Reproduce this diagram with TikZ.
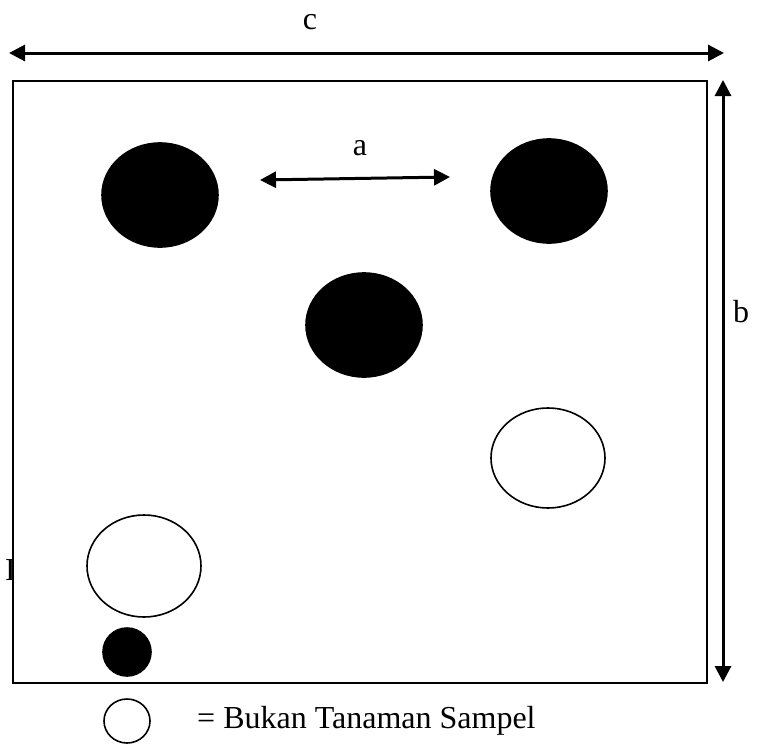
\documentclass[tikz,border=0pt]{standalone}
\usepackage{fontspec}
\setmainfont{Liberation Serif}
\usetikzlibrary{arrows.meta,shapes.geometric}
\begin{document}
\begin{tikzpicture}[x=1pt,y=-1pt,
  lbl/.style={inner sep=0pt,font=\fontsize{32}{37}\selectfont},
  tree/.style={ellipse,draw=black,line width=1.6pt,inner sep=0pt},
  sample/.style={tree,fill=black},
  nonsample/.style={tree,fill=white},
  dim/.style={line width=3pt,{Triangle[length=16pt,width=16pt]}-{Triangle[length=16pt,width=16pt]}}]
\useasboundingbox (0,0) rectangle (763,747);
% plot
\node[draw=black,line width=2.2pt,minimum width=694pt,minimum height=602pt,inner sep=0pt,anchor=north west] (plot) at (12,80) {};
% trees
\node[sample,minimum width=116pt,minimum height=104pt] (t1) at (160,195) {};
\node[sample,minimum width=116pt,minimum height=104pt] (t2) at (549,191) {};
\node[sample,minimum width=116pt,minimum height=104pt] (t3) at (364,325) {};
\node[nonsample,minimum width=114pt,minimum height=100pt] (t4) at (548,458) {};
\node[nonsample,minimum width=114pt,minimum height=102pt] (t5) at (144,566) {};
\node[sample,minimum width=48pt,minimum height=48pt] (t6) at (127,652) {};
% legend
\node[nonsample,minimum width=46pt,minimum height=44pt] (leg) at (127,721) {};
\node[lbl,anchor=west] (legtxt) at (197,721) {= Bukan Tanaman Sampel};
% dimension arrows
\coordinate (cL) at (9,53);
\coordinate (cR) at (724,53);
\draw[dim] (cL) -- (cR);
\node[lbl] (clab) at (310,22) {c};
\coordinate (bT) at (723,80);
\coordinate (bB) at (723,682);
\draw[dim] (bT) -- (bB);
\node[lbl] (blab) at (741,312) {b};
\coordinate (aL) at (260,180);
\coordinate (aR) at (450,177);
\draw[dim] (aL) -- (aR);
\node[lbl] (alab) at (360,148) {a};
% clipped glyph at left edge
\begin{scope}
\clip (0,540) rectangle (12,600);
\node[lbl,anchor=base east] (clipped) at (16,580) {I};
\end{scope}
\end{tikzpicture}
\end{document}
